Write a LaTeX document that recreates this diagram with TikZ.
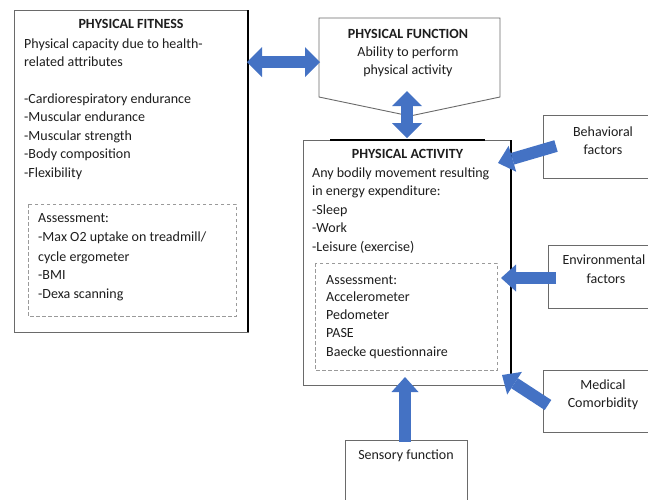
\documentclass[tikz,border=0pt]{standalone}
\usepackage{fontspec}
\setmainfont{Carlito}
\usetikzlibrary{arrows.meta}
\definecolor{blu}{HTML}{4472C4}
\definecolor{txt}{HTML}{1E1E1E}
\definecolor{edge}{HTML}{6A6A6A}
\definecolor{dash}{HTML}{9A9A9A}
\tikzset{
  boxline/.style={draw=edge, line width=0.9pt},
  thickedge/.style={draw=black, line width=2.2pt},
  dashbox/.style={draw=dash, line width=0.9pt, dash pattern=on 3.5pt off 2.5pt},
  lbl/.style={anchor=base west},
  clbl/.style={anchor=base},
  ttl/.style={anchor=base, font=\fontsize{14}{18.5}\selectfont\bfseries},
  onearrow/.style={draw=blu, line width=12pt,
    -{Triangle[width=27pt,length=15pt,line width=0pt]}},
  twoarrow/.style={draw=blu, line width=12pt,
    {Triangle[width=30pt,length=15pt,line width=0pt]}-{Triangle[width=30pt,length=15pt,line width=0pt]}}
}
\begin{document}
\begin{tikzpicture}[x=1pt,y=-1pt,
  every node/.style={font=\fontsize{14}{18.5}\selectfont, text=txt, inner sep=0pt}]
\useasboundingbox (0,0) rectangle (648,499);
\clip (0,0) rectangle (648,499);
\fill[white] (0,0) rectangle (648,499);

% ---------- Physical fitness ----------
\draw[boxline] (14,10) rectangle (248,332);
\draw[thickedge] (248,10) -- (248,332);
\draw[dashbox] (28,204) rectangle (236,316);
\node[ttl] (fitT) at (131,28.5) {PHYSICAL FITNESS};
\node[lbl] (fit1) at (24,48) {Physical capacity due to health-};
\node[lbl] (fit2) at (24,66.5) {related attributes};
\node[lbl] (fit3) at (24,103) {-Cardiorespiratory endurance};
\node[lbl] (fit4) at (24,121.5) {-Muscular endurance};
\node[lbl] (fit5) at (24,140) {-Muscular strength};
\node[lbl] (fit6) at (24,158.5) {-Body composition};
\node[lbl] (fit7) at (24,177) {-Flexibility};
\node[lbl] (fa1) at (38,222.5) {Assessment:};
\node[lbl] (fa2) at (38,241.5) {-Max O2 uptake on treadmill/};
\node[lbl] (fa3) at (38,261) {cycle ergometer};
\node[lbl] (fa4) at (38,279.5) {-BMI};
\node[lbl] (fa5) at (38,298) {-Dexa scanning};

% ---------- Physical function ----------
\draw[boxline] (319,18) -- (500,18) -- (500,97) -- (410,116) -- (319,97) -- cycle;
\node[ttl] (funT) at (408,38) {PHYSICAL FUNCTION};
\node[clbl] (fun1) at (408,56.5) {Ability to perform};
\node[clbl] (fun2) at (408,74.5) {physical activity};

% ---------- Physical activity ----------
\draw[boxline] (303,140) rectangle (511,385);
\draw[thickedge] (511,140) -- (511,385);
\draw[thickedge] (330,140) -- (485,140);
\draw[dashbox] (315,263) rectangle (497,370);
\node[ttl] (actT) at (407.5,158) {PHYSICAL ACTIVITY};
\node[lbl] (act1) at (312,177) {Any bodily movement resulting};
\node[lbl] (act2) at (312,195.5) {in energy expenditure:};
\node[lbl] (act3) at (312,214) {-Sleep};
\node[lbl] (act4) at (312,232.5) {-Work};
\node[lbl] (act5) at (312,251.5) {-Leisure (exercise)};
\node[lbl] (aa1) at (326,284) {Assessment:};
\node[lbl] (aa2) at (326,301.5) {Accelerometer};
\node[lbl] (aa3) at (326,319.5) {Pedometer};
\node[lbl] (aa4) at (326,337.5) {PASE};
\node[lbl] (aa5) at (326,356) {Baecke questionnaire};

% ---------- Factor boxes ----------
\draw[boxline] (543,115) rectangle (663,178);
\node[clbl] (beh1) at (603,136) {Behavioral};
\node[clbl] (beh2) at (603,154.5) {factors};

\draw[boxline] (548,245) rectangle (668,308);
\node[clbl] (env1) at (604,264) {Environmental};
\node[clbl] (env2) at (606,283) {factors};

\draw[boxline] (543,370) rectangle (663,432);
\node[clbl] (med1) at (603,389.5) {Medical};
\node[clbl] (med2) at (603,407.5) {Comorbidity};

\draw[boxline] (345,440) rectangle (467,520);
\node[clbl] (sen1) at (406,459) {Sensory function};

% ---------- Arrows ----------
\coordinate (hL) at (247,62);
\coordinate (hR) at (320,62);
\coordinate (vT) at (407,91);
\coordinate (vB) at (407,138);
\coordinate (behS) at (556,146);
\coordinate (behE) at (498,163);
\coordinate (envS) at (556,278);
\coordinate (envE) at (501,278);
\coordinate (medS) at (548,405);
\coordinate (medE) at (502,375);
\coordinate (senS) at (405,442);
\coordinate (senE) at (405,377);

\draw[twoarrow] (hL) -- (hR);
\draw[twoarrow] (vT) -- (vB);
\draw[onearrow] (behS) -- (behE);
\draw[onearrow] (envS) -- (envE);
\draw[onearrow] (medS) -- (medE);
\draw[onearrow] (senS) -- (senE);
\end{tikzpicture}
\end{document}
